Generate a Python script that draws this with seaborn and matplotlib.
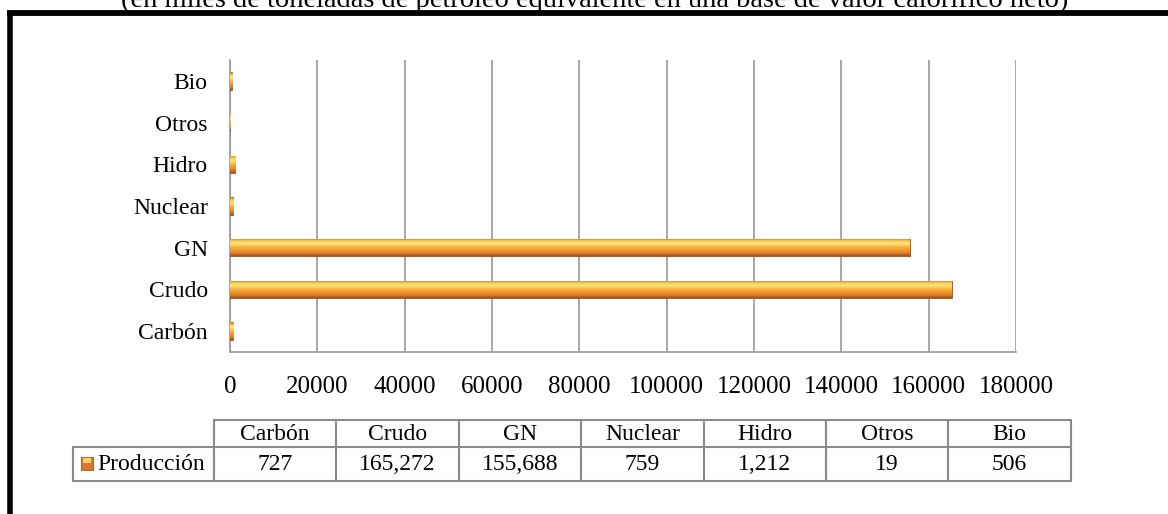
import numpy as np
import pandas as pd
import matplotlib.pyplot as plt
import seaborn as sns
from matplotlib.colors import LinearSegmentedColormap
from matplotlib.patches import Rectangle

# data
categories = ['Carbón', 'Crudo', 'GN', 'Nuclear', 'Hidro', 'Otros', 'Bio']
produccion = [727, 165272, 155688, 759, 1212, 19, 506]
series_name = 'Producción'
x_ticks = list(range(0, 180001, 20000))
title = '(en miles de toneladas de petróleo equivalente en una base de valor calorífico neto)'

W, H = 1168, 514

sns.set_theme(style='white')
plt.rcParams['font.family'] = ['Liberation Serif', 'DejaVu Serif']
plt.rcParams['text.color'] = 'black'

df = pd.DataFrame({'Fuente': categories, 'Valor': produccion})
order = categories[::-1]

fig = plt.figure(figsize=(W / 100, H / 100), dpi=100)
fig.patch.set_facecolor('white')

ax = fig.add_axes([230 / W, 1 - 352 / H, (1016 - 230) / W, (352 - 60) / H])
sns.barplot(data=df, y='Fuente', x='Valor', order=order, orient='h',
            color='#E8862A', width=0.42, saturation=1, ax=ax, zorder=3)

# bevel-like gradient on the bars
grad_cmap = LinearSegmentedColormap.from_list(
    'bevel', [(0.0, '#B85E1C'), (0.12, '#F6C24E'), (0.3, '#FFE77E'),
              (0.55, '#F6A93A'), (0.85, '#E07F25'), (1.0, '#9C4E18')])
grad = np.linspace(0, 1, 64).reshape(-1, 1)
for p in list(ax.patches):
    x0, y0 = p.get_x(), p.get_y()
    w, h = p.get_width(), p.get_height()
    if w <= 0:
        continue
    p.set_edgecolor('#9C4E18')
    p.set_linewidth(0.6)
    im = ax.imshow(grad, cmap=grad_cmap, aspect='auto', zorder=3.5,
                   extent=[x0, x0 + w, y0 + h, y0], interpolation='bicubic')
    im.set_clip_path(p)

ax.set_xlim(0, 180000)
ax.set_ylim(6.5, -0.5)
ax.set_xticks(x_ticks)
ax.set_xticklabels([str(t) for t in x_ticks])
ax.set_xlabel('')
ax.set_ylabel('')
ax.grid(axis='x', color='#9a9a9a', linewidth=1.2, zorder=0)
ax.grid(axis='y', visible=False)
for s in ['top', 'right']:
    ax.spines[s].set_visible(False)
for s in ['left', 'bottom']:
    ax.spines[s].set_color('#9a9a9a')
    ax.spines[s].set_linewidth(1.2)
ax.tick_params(axis='x', length=0, pad=17, labelsize=18, labelcolor='black')
ax.tick_params(axis='y', length=0, pad=16, labelsize=17, labelcolor='black')

# overlay in pixel coordinates for border, title and data table
ov = fig.add_axes([0, 0, 1, 1], zorder=5)
ov.set_xlim(0, W)
ov.set_ylim(H, 0)
ov.axis('off')
ov.patch.set_alpha(0)

ov.text((117 + 1072) / 2, 7, title, ha='center', va='baseline', fontsize=20.5, color='black')
ov.plot([7, W], [13, 13], color='black', linewidth=4.2, solid_capstyle='butt')
ov.plot([9.5, 9.5], [10.5, H], color='black', linewidth=4, solid_capstyle='butt')

lab_x0, col_x0, col_w = 72.5, 214, 122.4
y_top, y_mid, y_bot = 420, 447, 481
col_x1 = col_x0 + col_w * len(categories)
lc, lw = '#8a8a8a', 1.5
ov.plot([col_x0, col_x1], [y_top, y_top], color=lc, linewidth=lw)
ov.plot([lab_x0, col_x1], [y_mid, y_mid], color=lc, linewidth=lw)
ov.plot([lab_x0, col_x1], [y_bot, y_bot], color=lc, linewidth=lw)
ov.plot([lab_x0, lab_x0], [y_mid, y_bot], color=lc, linewidth=lw)
for i in range(len(categories) + 1):
    xx = col_x0 + col_w * i
    ov.plot([xx, xx], [y_top, y_bot], color=lc, linewidth=lw)
for i, (c, v) in enumerate(zip(categories, produccion)):
    cx = col_x0 + col_w * (i + 0.5)
    ov.text(cx, (y_top + y_mid) / 2 + 1, c, ha='center', va='center', fontsize=17)
    ov.text(cx, (y_mid + y_bot) / 2 + 1, f'{v:,}', ha='center', va='center', fontsize=17)

ov.add_patch(Rectangle((81, 457), 12, 13, facecolor='#D9782A', edgecolor='#A0521A', linewidth=0.6))
ov.add_patch(Rectangle((83, 458), 8, 5, facecolor='#FFD76A', edgecolor='none'))
ov.text(97, (y_mid + y_bot) / 2 + 1, series_name, ha='left', va='center', fontsize=17)

fig.savefig('out.png', dpi=100, facecolor='white')
